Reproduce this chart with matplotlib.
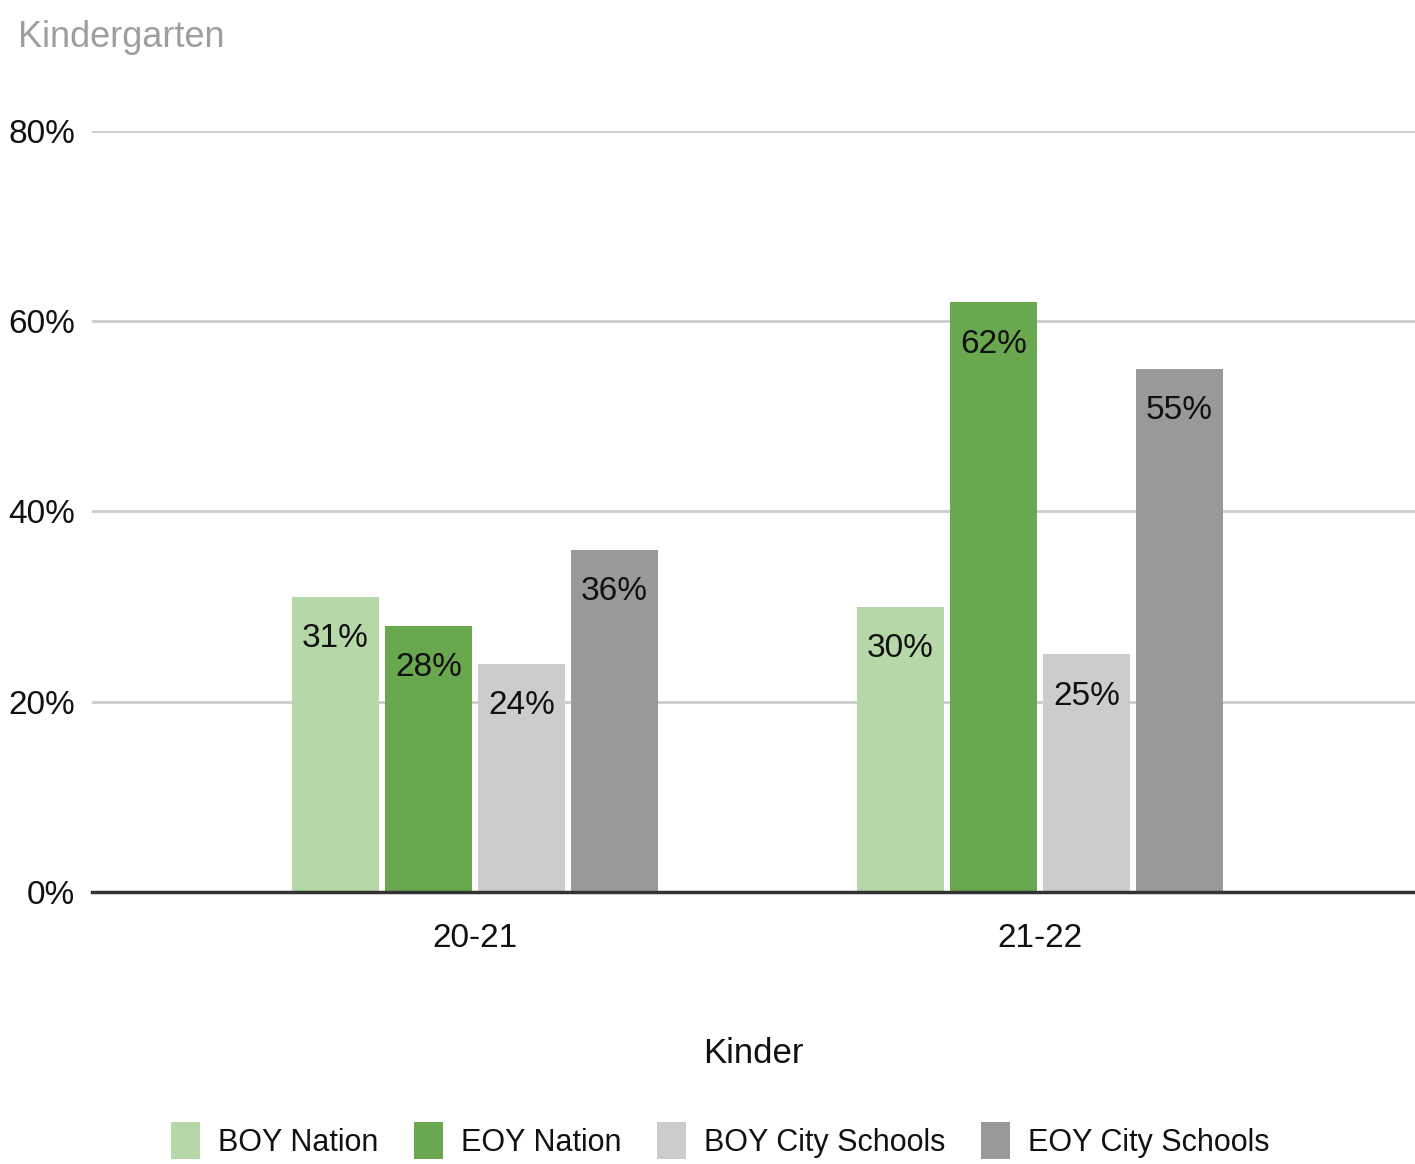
import matplotlib.pyplot as plt
import numpy as np
from matplotlib.patches import Patch
from matplotlib.ticker import PercentFormatter

plt.rcParams["font.family"] = ["Liberation Sans Narrow", "Liberation Sans", "DejaVu Sans"]

categories = ["20-21", "21-22"]
series_names = ["BOY Nation", "EOY Nation", "BOY City Schools", "EOY City Schools"]
boy_nation = [31, 30]
eoy_nation = [28, 62]
boy_city = [24, 25]
eoy_city = [36, 55]
colors = ["#b6d7a8", "#6aa84f", "#cccccc", "#999999"]
yticks = [0, 20, 40, 60, 80]

values = [boy_nation, eoy_nation, boy_city, eoy_city]

fig = plt.figure(figsize=(14.15, 11.64), dpi=100)
ax = fig.add_axes([0.065, 0.2337, 0.935, 0.6538])

x = np.arange(len(categories))
width = 0.154
step = 0.1646
for i, (vals, col) in enumerate(zip(values, colors)):
    pos = x + (i - 1.5) * step
    bars = ax.bar(pos, vals, width=width, color=col, zorder=3)
    for b, v in zip(bars, vals):
        ax.annotate(f"{v}%", (b.get_x() + b.get_width() / 2, v),
                    xytext=(0, -19), textcoords="offset points",
                    ha="center", va="top", fontsize=24, color="#111111", zorder=4)

ax.set_xlim(-0.678, 1.664)
ax.set_ylim(0, 80)
ax.set_yticks(yticks)
ax.yaxis.set_major_formatter(PercentFormatter(decimals=0))
ax.set_xticks(x)
ax.set_xticklabels(categories)
ax.tick_params(axis="both", length=0, labelsize=24, colors="#111111")
ax.tick_params(axis="y", pad=12)
ax.tick_params(axis="x", pad=22)
ax.grid(axis="y", color="#cccccc", linewidth=2, zorder=0)
for s in ["top", "right", "left"]:
    ax.spines[s].set_visible(False)
ax.spines["bottom"].set_color("#333333")
ax.spines["bottom"].set_linewidth(2.5)
ax.spines["bottom"].set_zorder(5)

ax.set_xlabel("Kinder", fontsize=25, color="#111111", labelpad=60)

fig.text(0.013, 0.968, "Kindergarten", fontsize=26, color="#9e9e9e", ha="left", va="center")

handles = [Patch(facecolor=c, edgecolor="none") for c in colors]
fig.legend(handles, series_names, loc="center", bbox_to_anchor=(0.509, 0.02),
           ncol=4, frameon=False, fontsize=22, handlelength=0.95, handleheight=1.5,
           handletextpad=0.6, columnspacing=1.15, labelcolor="#111111")

fig.savefig("out.png", dpi=100)
